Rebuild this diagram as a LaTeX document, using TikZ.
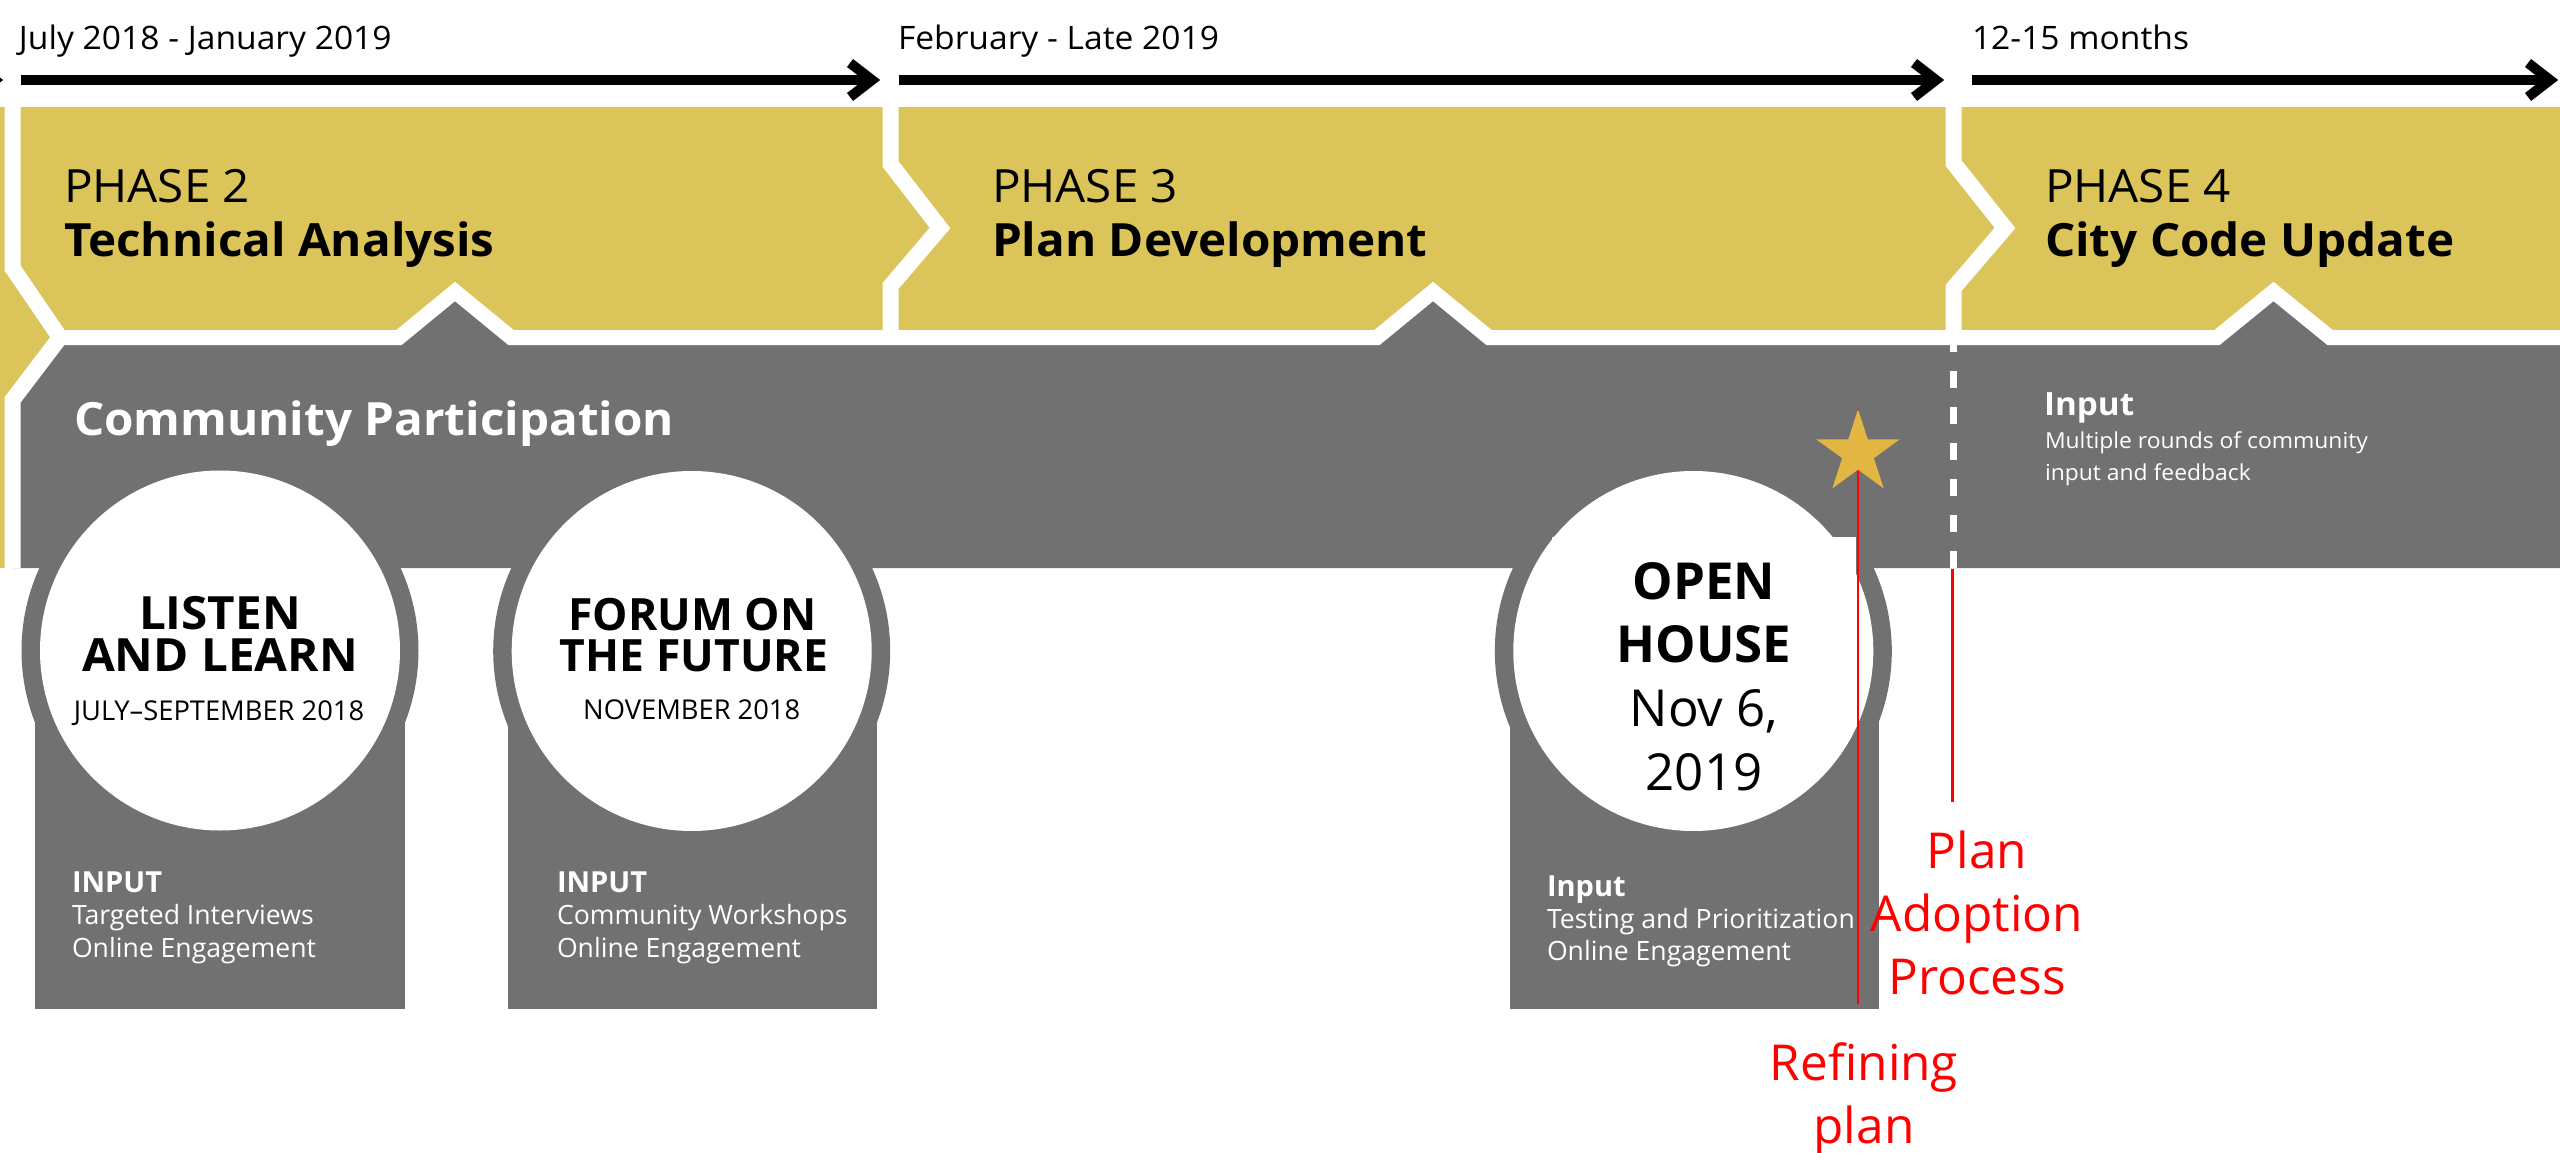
\documentclass[tikz,border=0pt]{standalone}
\usepackage{fontspec}
\setmainfont{Open Sans}
\newfontfamily\wideos[FakeStretch=1.04]{Open Sans}
\usetikzlibrary{shapes.geometric}
\definecolor{phaseY}{RGB}{219,197,90}
\definecolor{commG}{RGB}{112,113,112}
\definecolor{starY}{RGB}{227,181,66}
\definecolor{noteR}{RGB}{255,0,0}
\pgfdeclarelayer{front}
\pgfsetlayers{main,front}

\begin{document}
\begin{tikzpicture}[x=1pt,y=-1pt,
  txt/.style={inner sep=0pt, outer sep=0pt, anchor=base west},
  ctxt/.style={inner sep=0pt, outer sep=0pt, anchor=base},
  datetxt/.style={txt, font=\wideos\fontsize{32.3}{36}\selectfont},
  phnum/.style={txt, font=\wideos\fontsize{45.8}{50}\selectfont},
  phname/.style={txt, font=\wideos\fontsize{45.8}{50}\selectfont\bfseries},
  commtitle/.style={txt, text=white, font=\wideos\fontsize{45.8}{50}\selectfont\bfseries},
  evtitle/.style={ctxt, font=\wideos\fontsize{45.8}{50}\selectfont\bfseries},
  evtitlen/.style={ctxt, font=\fontsize{44.5}{50}\selectfont\bfseries},
  evdate/.style={ctxt, font=\fontsize{27.3}{30}\selectfont},
  inhead/.style={txt, text=white, font=\fontsize{29}{32}\selectfont\bfseries},
  inbody/.style={txt, text=white, font=\fontsize{26.6}{30}\selectfont},
  p4head/.style={txt, text=white, font=\wideos\fontsize{32}{34}\selectfont\bfseries},
  p4body/.style={txt, text=white, font=\wideos\fontsize{22}{24}\selectfont},
  ohtitle/.style={ctxt, font=\fontsize{51}{56}\selectfont\bfseries},
  ohdate/.style={ctxt, font=\fontsize{51}{56}\selectfont},
  notetxt/.style={ctxt, text=noteR, font=\fontsize{49.5}{52}\selectfont},
  gap/.style={draw=white, line width=16pt, line join=miter},
  timeline/.style={draw=black, line width=10pt},
  redline/.style={draw=noteR, line width=2.4pt},
]
\useasboundingbox (0,0) rectangle (2560,1153);
\clip (0,0) rectangle (2560,1153);

% ---- timeline arrows ----
\foreach \s/\e in {-200/3, 21/880, 898.6/1944, 1972/2558}{
  \draw[timeline] (\s,80) -- (\e-10,80);
  \draw[timeline, line join=miter] (\e-30,63) -- (\e-8,80) -- (\e-30,97);
}
\node[datetxt] (d1) at (19,50) {July 2018 - January 2019};
\node[datetxt] (d2) at (898,50) {February - Late 2019};
\node[datetxt] (d3) at (1972,50) {12-15 months};

% ---- phase band and community band ----
\fill[phaseY] (0,107) rectangle (2560,337.5);
\fill[phaseY] (0,337.5) rectangle (60,568);
\fill[commG] (12.5,400) -- (60,337.5) -- (399,337.5) -- (455,291.5) -- (511,337.5)
  -- (1377,337.5) -- (1433,291.5) -- (1489,337.5)
  -- (2217,337.5) -- (2273.5,291.5) -- (2330,337.5) -- (2560,337.5)
  -- (2560,568) -- (12.5,568) -- cycle;

% white separators
\draw[gap] (12.5,107) -- (12.5,268) -- (60,337.5) -- (12.5,400) -- (12.5,568);
\draw[gap, line width=15pt] (60,337.5) -- (399,337.5) -- (455,291.5) -- (511,337.5)
  -- (1377,337.5) -- (1433,291.5) -- (1489,337.5)
  -- (2217,337.5) -- (2273.5,291.5) -- (2330,337.5) -- (2560,337.5);
\draw[gap] (890.5,107) -- (890.5,164) -- (940,228) -- (890.5,286) -- (890.5,337.5);
\draw[gap] (1953.5,107) -- (1953.5,163) -- (2005,228) -- (1953.5,288) -- (1953.5,337.5);

% dashed divider in the community band
\coordinate (divTop) at (1953.5,345);
\coordinate (divBot) at (1953.5,568);
\draw[white, line width=7pt, dash pattern=on 17.5pt off 18.5pt] (divBot) -- (divTop);

% ---- phase titles ----
\node[phnum]  (p2a) at (64,202.5) {PHASE 2};
\node[phname] (p2b) at (64,256) {Technical Analysis};
\node[phnum]  (p3a) at (992,202.5) {PHASE 3};
\node[phname] (p3b) at (992,256) {Plan Development};
\node[phnum]  (p4a) at (2045,202.5) {PHASE 4};
\node[phname] (p4b) at (2045,256) {City Code Update};

\node[commtitle] (comm) at (74,435) {Community Participation};

\node[p4head] (p4h) at (2044,415) {Input};
\node[p4body] (p4l1) at (2045,448.3) {Multiple rounds of community};
\node[p4body] (p4l2) at (2045,480) {input and feedback};

% ---- engagement events ----
\foreach \cx/\cy/\bl/\br in {220/650.5/35/405, 691.7/651/507.7/877.3, 1693.3/651/1510/1878.5}{
  \fill[commG] (\cx,\cy) circle[radius=198.5pt];
  \fill[commG] (\bl,650) rectangle (\br,1008.5);
  \fill[white] (\cx,\cy) circle[radius=180pt];
}
\fill[white] (1552,536.5) rectangle (1856,640);

\node[evtitle] (e1a) at (220,629) {LISTEN};
\node[evtitle] (e1b) at (220,671.5) {AND LEARN};
\node[evdate]  (e1c) at (219,720) {JULY–SEPTEMBER 2018};
\node[inhead] (i1h) at (72,892.7) {INPUT};
\node[inbody] (i1a) at (72,924) {Targeted Interviews};
\node[inbody] (i1b) at (72,957.3) {Online Engagement};

\node[evtitlen] (e2a) at (692.5,630) {FORUM ON};
\node[evtitlen] (e2b) at (694,671.7) {THE FUTURE};
\node[evdate]  (e2c) at (691.7,719.3) {NOVEMBER 2018};
\node[inhead] (i2h) at (557,892.7) {INPUT};
\node[inbody] (i2a) at (557,924) {Community Workshops};
\node[inbody] (i2b) at (557,957.3) {Online Engagement};

\node[ohtitle] (e3a) at (1704,599) {OPEN};
\node[ohtitle] (e3b) at (1704,662.7) {HOUSE};
\node[ohdate]  (e3c) at (1704,726) {Nov 6,};
\node[ohdate]  (e3d) at (1704,790) {2019};
\node[inhead] (i3h) at (1547,896) {Input};
\node[inbody] (i3a) at (1547,928.4) {Testing and Prioritization};
\node[inbody] (i3b) at (1547,960) {Online Engagement};

% ---- annotations ----
\begin{pgfonlayer}{front}
\node[star, star points=5, star point ratio=2.618, minimum size=87.4pt,
      inner sep=0pt, fill=starY, draw=none] (star) at (1858,453) {};
\end{pgfonlayer}
\coordinate (refEnd) at (1858,1004);
\coordinate (adoptEnd) at (1952.5,802);
\draw[redline] (star.north) -- (refEnd);
\draw[redline] (1952.5,568.5) -- (adoptEnd);

\node[notetxt] (n1) at (1977,868) {Plan};
\node[notetxt] (n2) at (1977,931) {Adoption};
\node[notetxt] (n3) at (1977,994) {Process};
\node[notetxt] (r1) at (1864,1080.6) {Refining};
\node[notetxt] (r2) at (1864,1143.5) {plan};
\end{tikzpicture}
\end{document}
